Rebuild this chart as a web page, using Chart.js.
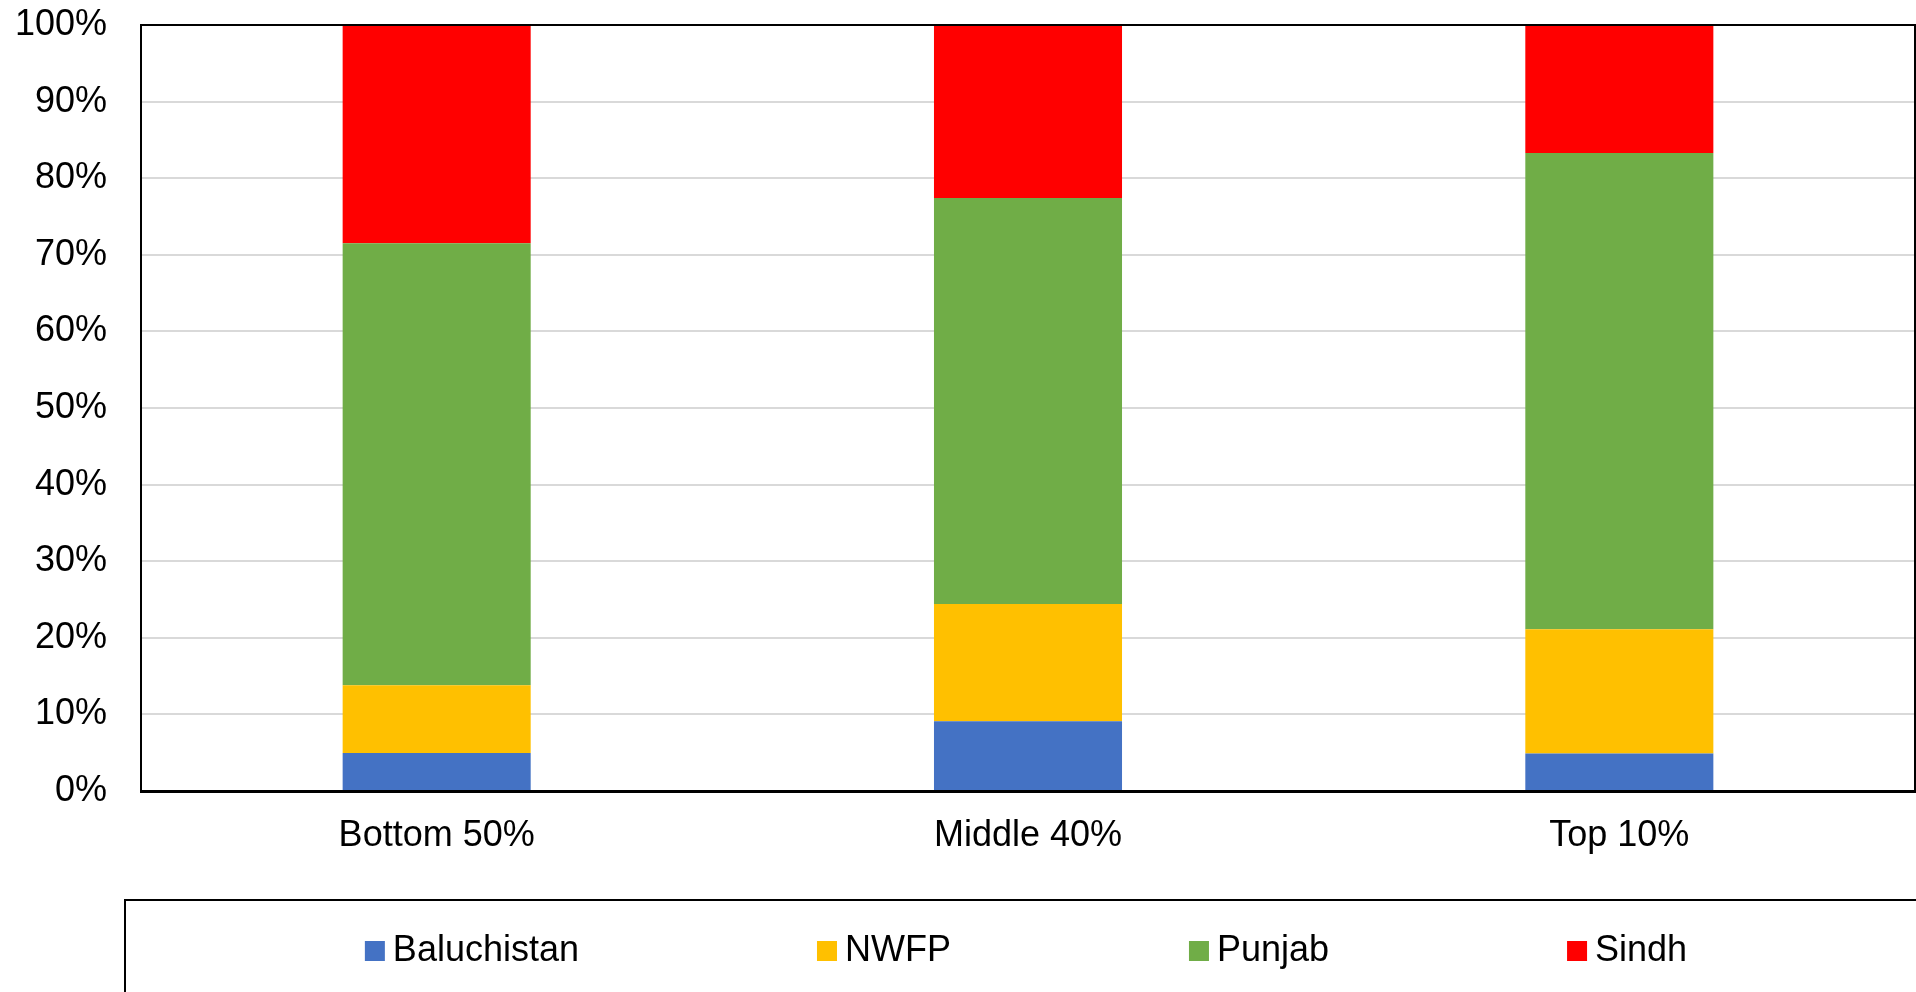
<!DOCTYPE html>
<html>
<head>
<meta charset="utf-8">
<script src="https://cdn.jsdelivr.net/npm/chart.js@4/dist/chart.umd.min.js"></script>
<style>
  html, body { margin: 0; padding: 0; background: #fff; overflow: hidden; }
  canvas { display: block; }
</style>
</head>
<body>
<canvas id="shareChart" width="1916" height="992"></canvas>
<script>
const groups = ['Bottom 50%', 'Middle 40%', 'Top 10%'];
const provinces = ['Baluchistan', 'NWFP', 'Punjab', 'Sindh'];
const colors = ['#4472C4', '#FFC000', '#70AD47', '#FF0000'];

// share of each income group by province (%)
const baluchistan = [4.95, 9.1, 4.9];
const nwfp = [8.85, 15.3, 16.2];
const punjab = [57.7, 53.0, 62.2];
const sindh = [28.5, 22.6, 16.7];
const yTicks = [0, 10, 20, 30, 40, 50, 60, 70, 80, 90, 100];

const FONT = '"Liberation Sans", Arial, sans-serif';

// Excel-style legend: boxed row below the plot
const legendRow = {
  id: 'legendRow',
  afterDraw(chart) {
    const { ctx, chartArea, scales } = chart;
    const top = scales.x.bottom + 43;
    ctx.save();
    ctx.strokeStyle = '#000';
    ctx.lineWidth = 2;
    ctx.strokeRect(chartArea.left - 16, top, chart.width + 20, chart.height);

    ctx.font = '36px ' + FONT;
    ctx.textBaseline = 'middle';
    ctx.textAlign = 'left';
    const box = 20, gap = 8, itemGap = 238;
    const widths = chart.data.datasets.map(ds => box + gap + ctx.measureText(ds.label).width);
    const total = widths.reduce((a, b) => a + b, 0) + itemGap * (widths.length - 1);
    let x = (chartArea.left + chartArea.right) / 2 - total / 2 - 2;
    const cy = top + 51;
    chart.data.datasets.forEach((ds, i) => {
      ctx.fillStyle = ds.backgroundColor;
      ctx.fillRect(x, cy - box / 2, box, box);
      ctx.fillStyle = '#000';
      ctx.fillText(ds.label, x + box + gap, cy);
      x += widths[i] + itemGap;
    });
    ctx.restore();
  }
};

// plot area border (top/right)
const plotFrame = {
  id: 'plotFrame',
  afterDatasetsDraw(chart) {
    const { ctx, chartArea } = chart;
    ctx.save();
    ctx.strokeStyle = '#000';
    ctx.lineWidth = 2;
    ctx.strokeRect(chartArea.left, chartArea.top, chartArea.right - chartArea.left, chartArea.bottom - chartArea.top);
    ctx.restore();
  }
};

const series = [baluchistan, nwfp, punjab, sindh];

new Chart(document.getElementById('shareChart'), {
  type: 'bar',
  data: {
    labels: groups,
    datasets: provinces.map((name, i) => ({
      label: name,
      data: series[i],
      backgroundColor: colors[i],
      borderWidth: 0,
      barPercentage: 0.318,
      categoryPercentage: 1,
    })),
  },
  options: {
    responsive: false,
    devicePixelRatio: 1,
    animation: false,
    layout: { padding: { left: 0, right: 1, top: 25, bottom: 135 } },
    plugins: {
      legend: { display: false },
      tooltip: { enabled: false },
    },
    scales: {
      x: {
        stacked: true,
        afterFit(scale) { scale.height = 66; },
        grid: { display: false, drawTicks: false },
        border: { display: true, color: '#000', width: 3 },
        ticks: { color: '#000', font: { size: 36, family: FONT }, padding: 23 },
      },
      y: {
        stacked: true,
        min: 0,
        max: 100,
        afterFit(scale) { scale.width = 141; },
        afterBuildTicks(scale) { scale.ticks = yTicks.map(v => ({ value: v })); },
        grid: { color: '#d9d9d9', lineWidth: 2, drawTicks: true, tickLength: 31, tickColor: 'rgba(0,0,0,0)' },
        border: { display: true, color: '#000', width: 2 },
        ticks: {
          color: '#000',
          font: { size: 36, family: FONT },
          padding: 3,
          callback: v => v + '%',
        },
      },
    },
  },
  plugins: [plotFrame, legendRow],
});
</script>
</body>
</html>
